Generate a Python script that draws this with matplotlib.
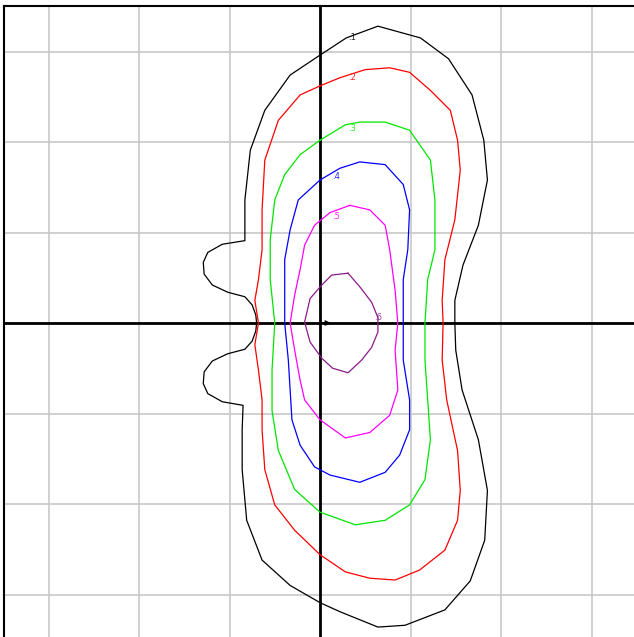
import matplotlib
matplotlib.use("Agg")
import matplotlib.pyplot as plt

# Contour levels and their colours
levels = [".1", ".2", ".3", ".4", ".5", ".6"]
colors = ["#000000", "#ff0000", "#00e600", "#0000ff", "#ff00ff", "#8b1a8b"]

# Contour paths (data units)
c1_x = [0, 0.29, 0.64, 1.11, 1.42, 1.68, 1.81, 1.85, 1.75, 1.58, 1.49, 1.49, 1.50, 1.57, 1.75, 1.85, 1.82, 1.66, 1.38, 0.94,
        0.64, 0.22, 0, -0.33, -0.64, -0.81, -0.86, -0.86, -0.85, -1.08, -1.24, -1.29, -1.28, -1.19, -1.02, -0.83, -0.75, -0.71,
        -0.70, -0.71, -0.75, -0.83, -1.02, -1.19, -1.28, -1.29, -1.24, -1.08, -0.83, -0.83, -0.77, -0.61, -0.33, 0]
c1_y = [2.96, 3.15, 3.28, 3.15, 2.92, 2.52, 2.02, 1.58, 1.08, 0.64, 0.25, 0, -0.30, -0.74, -1.29, -1.85, -2.40, -2.85, -3.17, -3.34,
        -3.36, -3.19, -3.09, -2.90, -2.62, -2.18, -1.62, -1.18, -0.91, -0.87, -0.78, -0.67, -0.54, -0.42, -0.34, -0.29, -0.20, -0.09,
        0, 0.09, 0.20, 0.29, 0.34, 0.42, 0.54, 0.67, 0.78, 0.87, 0.91, 1.36, 1.91, 2.35, 2.74, 2.96]

c2_x = [0, 0.22, 0.50, 0.77, 0.99, 1.22, 1.44, 1.52, 1.55, 1.49, 1.38, 1.35, 1.36, 1.35, 1.40, 1.52, 1.55, 1.52, 1.38, 1.10,
        0.83, 0.55, 0.28, 0, -0.28, -0.50, -0.61, -0.64, -0.64, -0.68, -0.72, -0.68, -0.72, -0.68, -0.64, -0.64, -0.61, -0.46, -0.22, 0]
c2_y = [2.62, 2.71, 2.80, 2.82, 2.77, 2.57, 2.35, 2.02, 1.69, 1.14, 0.70, 0.25, 0, -0.41, -0.85, -1.41, -1.85, -2.18, -2.51, -2.73,
        -2.84, -2.82, -2.75, -2.56, -2.29, -2.01, -1.62, -1.18, -0.85, -0.52, -0.24, 0, 0.25, 0.48, 0.81, 1.25, 1.80, 2.24, 2.52, 2.62]

c3_x = [0, 0.28, 0.44, 0.72, 0.99, 1.22, 1.27, 1.27, 1.19, 1.16, 1.16, 1.19, 1.22, 1.16, 0.99, 0.72, 0.39, 0, -0.28, -0.46,
        -0.53, -0.53, -0.50, -0.55, -0.55, -0.50, -0.39, -0.22, 0]
c3_y = [2.02, 2.19, 2.22, 2.22, 2.13, 1.80, 1.36, 0.81, 0.48, 0, -0.41, -0.85, -1.29, -1.73, -2.01, -2.18, -2.23, -2.09, -1.84, -1.41,
        -0.97, -0.52, 0, 0.48, 0.92, 1.36, 1.64, 1.86, 2.02]

c4_x = [0, 0.22, 0.44, 0.72, 0.92, 0.99, 0.97, 0.92, 0.92, 0.92, 0.99, 0.99, 0.88, 0.72, 0.44, 0.11, -0.06, -0.22, -0.31, -0.33,
        -0.35, -0.39, -0.39, -0.39, -0.33, -0.24, 0]
c4_y = [1.58, 1.71, 1.78, 1.75, 1.53, 1.25, 0.81, 0.48, 0, -0.41, -0.85, -1.18, -1.46, -1.65, -1.76, -1.68, -1.59, -1.35, -1.07, -0.74,
        -0.41, 0, 0.36, 0.70, 1.03, 1.36, 1.58]

c5_x = [0.33, 0.55, 0.72, 0.77, 0.83, 0.86, 0.83, 0.86, 0.77, 0.55, 0.28, 0, -0.17, -0.22, -0.28, -0.33, -0.28, -0.22, -0.17, -0.06, 0.11, 0.33]
c5_y = [1.30, 1.25, 1.08, 0.81, 0.36, 0, -0.30, -0.74, -1.02, -1.21, -1.27, -1.07, -0.85, -0.63, -0.30, 0, 0.31, 0.59, 0.86, 1.08, 1.22, 1.30]

c6_x = [0.31, 0.44, 0.57, 0.64, 0.64, 0.57, 0.46, 0.31, 0.14, 0.02, -0.11, -0.17, -0.11, 0.02, 0.13, 0.31]
c6_y = [0.55, 0.40, 0.23, 0.06, -0.10, -0.27, -0.41, -0.55, -0.50, -0.39, -0.21, 0.01, 0.27, 0.42, 0.53, 0.55]

# Label anchor positions (data units)
label_x = [0.35, 0.35, 0.35, 0.18, 0.18, 0.64]
label_y = [3.15, 2.71, 2.15, 1.62, 1.18, 0.06]

grid_ticks = [-3, -2, -1, 0, 1, 2, 3]

paths = [(c1_x, c1_y), (c2_x, c2_y), (c3_x, c3_y), (c4_x, c4_y), (c5_x, c5_y), (c6_x, c6_y)]

fig = plt.figure(figsize=(6.34, 6.37), dpi=100)
ax = fig.add_axes([4 / 634, 0, 630 / 634, 631 / 637])
ax.set_xlim(-316 / 90.5, 314 / 90.5)
ax.set_ylim(-314 / 90.5, 317 / 90.5)

ax.set_xticks(grid_ticks)
ax.set_yticks(grid_ticks)
ax.grid(True, color="#c8c8c8", linewidth=1.2)
ax.tick_params(left=False, bottom=False, labelleft=False, labelbottom=False)
for name, s in ax.spines.items():
    s.set_linewidth(1.5)
    s.set_color("black")
    if name in ("right", "bottom"):
        s.set_visible(False)

ax.axhline(0, color="black", linewidth=2.0, zorder=2)
ax.axvline(0, color="black", linewidth=2.0, zorder=2)
ax.annotate("", xy=(0.15, 0), xytext=(0.0, 0),
            arrowprops=dict(arrowstyle="-|>", color="black", lw=0.8, mutation_scale=8), zorder=3)

for (px, py), col, lab, lx, ly in zip(paths, colors, levels, label_x, label_y):
    ax.plot(px, py, color=col, linewidth=0.9, zorder=3)
    ax.text(lx, ly, lab, color=col, fontsize=6, ha="center", va="center", alpha=0.85, zorder=4)

fig.savefig("out.png", dpi=100)
